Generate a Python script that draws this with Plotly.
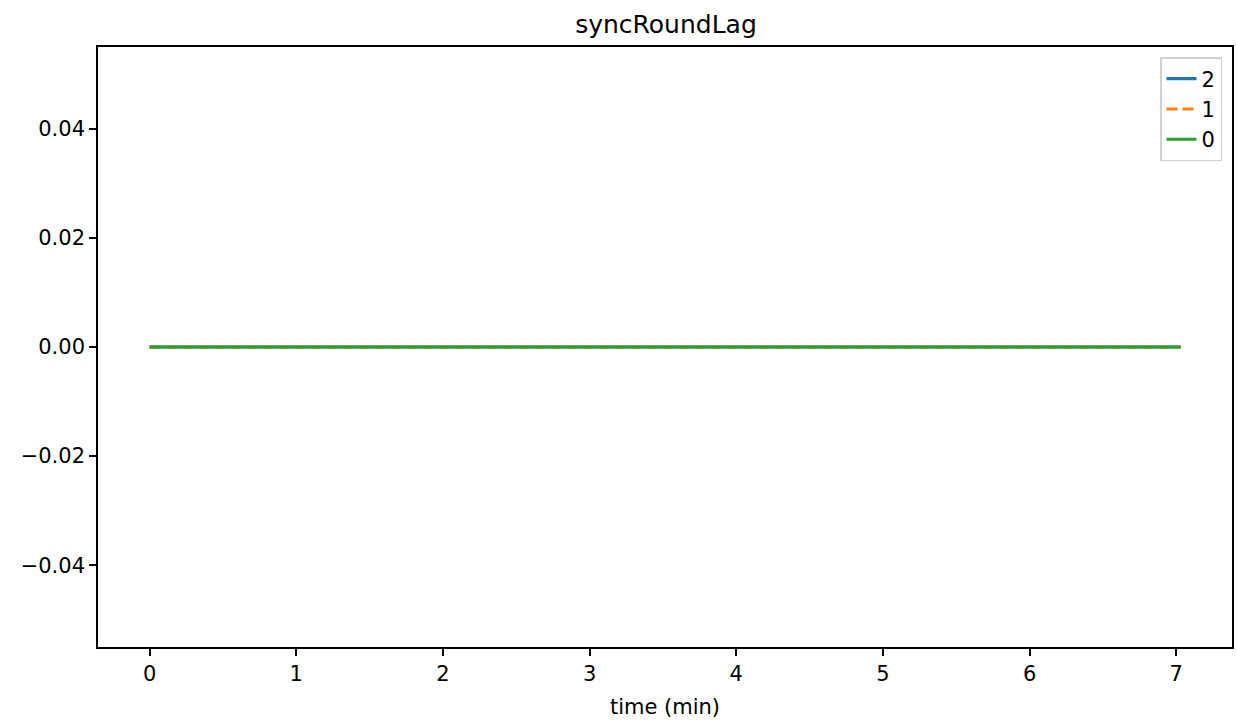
import plotly.graph_objects as go

# time (min) and syncRoundLag per node
time_2 = [0.0, 0.5, 1.0, 1.5, 2.0, 2.5, 3.0, 3.5, 4.0, 4.5, 5.0, 5.5, 6.0, 6.5, 7.03]
lag_2 = [0, 0, 0, 0, 0, 0, 0, 0, 0, 0, 0, 0, 0, 0, 0]
time_1 = [0.0, 0.5, 1.0, 1.5, 2.0, 2.5, 3.0, 3.5, 4.0, 4.5, 5.0, 5.5, 6.0, 6.5, 7.03]
lag_1 = [0, 0, 0, 0, 0, 0, 0, 0, 0, 0, 0, 0, 0, 0, 0]
time_0 = [0.0, 0.5, 1.0, 1.5, 2.0, 2.5, 3.0, 3.5, 4.0, 4.5, 5.0, 5.5, 6.0, 6.5, 7.03]
lag_0 = [0, 0, 0, 0, 0, 0, 0, 0, 0, 0, 0, 0, 0, 0, 0]

x_ticks = [0, 1, 2, 3, 4, 5, 6, 7]
y_ticks = [-0.04, -0.02, 0.0, 0.02, 0.04]
y_labels = ["\u22120.04", "\u22120.02", "0.00", "0.02", "0.04"]

series = [
    ("2", time_2, lag_2, "#1f77b4", "solid"),
    ("1", time_1, lag_1, "#ff7f0e", "11px,5px"),
    ("0", time_0, lag_0, "#2ca02c", "solid"),
]

fig = go.Figure()
for name, t, v, color, dash in series:
    fig.add_trace(go.Scatter(
        x=t, y=v, name=name, mode="lines",
        line={"color": color, "width": 3.1, "dash": dash},
    ))

axis_style = dict(
    showline=True, mirror=True, linecolor="black", linewidth=1.6,
    ticks="outside", ticklen=7, tickwidth=1.6, tickcolor="black",
    showgrid=False, zeroline=False,
    tickfont={"size": 21, "color": "black"},
)

fig.update_layout(
    width=1237, height=721,
    margin=go.layout.Margin(l=98, r=3, t=47, b=74),
    paper_bgcolor="white", plot_bgcolor="white",
    font={"family": "DejaVu Sans", "color": "black"},
    title={"text": "syncRoundLag", "x": 0.5384, "xanchor": "center",
           "y": 0.9667, "yanchor": "middle", "font": {"size": 25}},
    legend={"x": 0.9912, "y": 0.9833, "xanchor": "right", "yanchor": "top",
            "bordercolor": "#d0d0d0", "borderwidth": 1.5,
            "bgcolor": "rgba(255,255,255,0.8)", "font": {"size": 21}},
    showlegend=True,
)
fig.update_xaxes(axis_style, range=[-0.352, 7.38], tickvals=x_ticks,
                 title={"text": "time (min)", "font": {"size": 21}, "standoff": 14})
fig.update_yaxes(axis_style, range=[-0.055, 0.055], tickvals=y_ticks, ticktext=y_labels)

# drop the default body margin so the figure sits flush in the window
fig.write_html("out.html", config={"displayModeBar": False},
               post_script="document.body.style.margin='0';")
